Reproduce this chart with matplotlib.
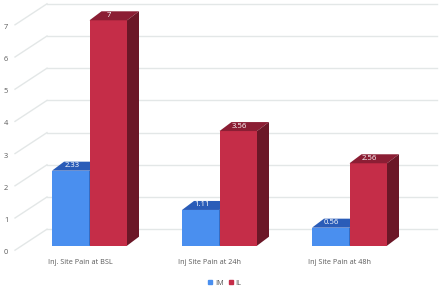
import matplotlib
matplotlib.use("Agg")
import matplotlib.pyplot as plt
from matplotlib.patches import Polygon
from matplotlib.lines import Line2D

# ---- data ----
categories = ["Inj. Site Pain at BSL", "Inj Site Pain at 24h", "Inj Site Pain at 48h"]
series_names = ["IM", "IL"]
im_values = [2.33, 1.11, 0.56]
il_values = [7, 3.56, 2.56]
y_ticks = [0, 1, 2, 3, 4, 5, 6, 7]

# ---- style / layout (pixels) ----
W, H = 440, 289
FONT = "Open Sans"
colors_front = ["#4A8FEF", "#C52D48"]
colors_top = ["#2A5CB8", "#8B1E34"]
colors_side = ["#1F4A99", "#6B1727"]
grid_color = "#E3E7E7"
text_gray = "#595959"

ax_left_px, ax_bottom_px = 24.5, 289 - 245.7
px_per_x, px_per_y = 130.0, 32.2
ymax = 7.5
depth_dx, depth_dy = 12.0, 9.0       # bar depth in px
back_dx_px, back_dy_px = 47.0, 16.5  # back wall start x (fig px), rise above bar front
front_x_px, front_drop_px = 15.0, 4.5
grid_right_px = 437.0
bar_w_px = 37.5

plt.rcParams["font.family"] = [FONT, "DejaVu Sans"]
fig = plt.figure(figsize=(W / 100, H / 100), dpi=100)
ax = fig.add_axes([ax_left_px / W, ax_bottom_px / H, 3 * px_per_x / W, ymax * px_per_y / H])
ax.set_xlim(-0.5, 2.5)
ax.set_ylim(0, ymax)
ax.axis("off")

def xd(px):  # figure px -> x data
    return (px - ax_left_px) / px_per_x - 0.5

ddx = depth_dx / px_per_x
ddy = depth_dy / px_per_y
bw = bar_w_px / px_per_x

# gridlines (back wall + slanted left wall)
for v in y_ticks:
    yb = v + back_dy_px / px_per_y
    yf = v - front_drop_px / px_per_y
    ax.plot([xd(back_dx_px), xd(grid_right_px)], [yb, yb], color=grid_color, lw=1.0, clip_on=False, zorder=0)
    ax.plot([xd(front_x_px), xd(back_dx_px)], [yf, yb], color=grid_color, lw=1.0, clip_on=False, zorder=0)
    ax.text(xd(6), v - 7 / px_per_y, str(v), ha="center", va="center", fontsize=5.4, color=text_gray)

# bars
for s, vals in enumerate([im_values, il_values]):
    xs = [i + (s - 0.5) * bw for i in range(len(categories))]
    ax.bar(xs, vals, width=bw, color=colors_front[s], zorder=2 + s, linewidth=0)
    for x, v in zip(xs, vals):
        x0, x1 = x - bw / 2, x + bw / 2
        top = Polygon([(x0, v), (x1, v), (x1 + ddx, v + ddy), (x0 + ddx, v + ddy)],
                      closed=True, facecolor=colors_top[s], edgecolor="none", zorder=2 + s, clip_on=False)
        side = Polygon([(x1, 0), (x1, v), (x1 + ddx, v + ddy), (x1 + ddx, ddy)],
                       closed=True, facecolor=colors_side[s], edgecolor="none", zorder=2 + s, clip_on=False)
        ax.add_patch(top)
        ax.add_patch(side)
        ax.text(x + 1 / px_per_x, v + 5 / px_per_y, f"{v:g}", ha="center", va="center",
                fontsize=5.6, color="white", zorder=5, clip_on=False)

# category labels
for i, c in enumerate(categories):
    ax.text(i - 9.5 / px_per_x, -(263 - 245.7) / px_per_y, c, ha="center", va="center",
            fontsize=5.2, color=text_gray, clip_on=False)

handles = [Line2D([], [], marker="s", linestyle="none", markersize=3.5, color=c) for c in colors_front]
fig.legend(handles, series_names, loc="center", bbox_to_anchor=(224 / W, 6 / H), ncol=2, frameon=False,
           fontsize=5.2, handletextpad=0.1, columnspacing=0.5, labelcolor=text_gray, handlelength=1)

fig.savefig("out.png", dpi=100)
